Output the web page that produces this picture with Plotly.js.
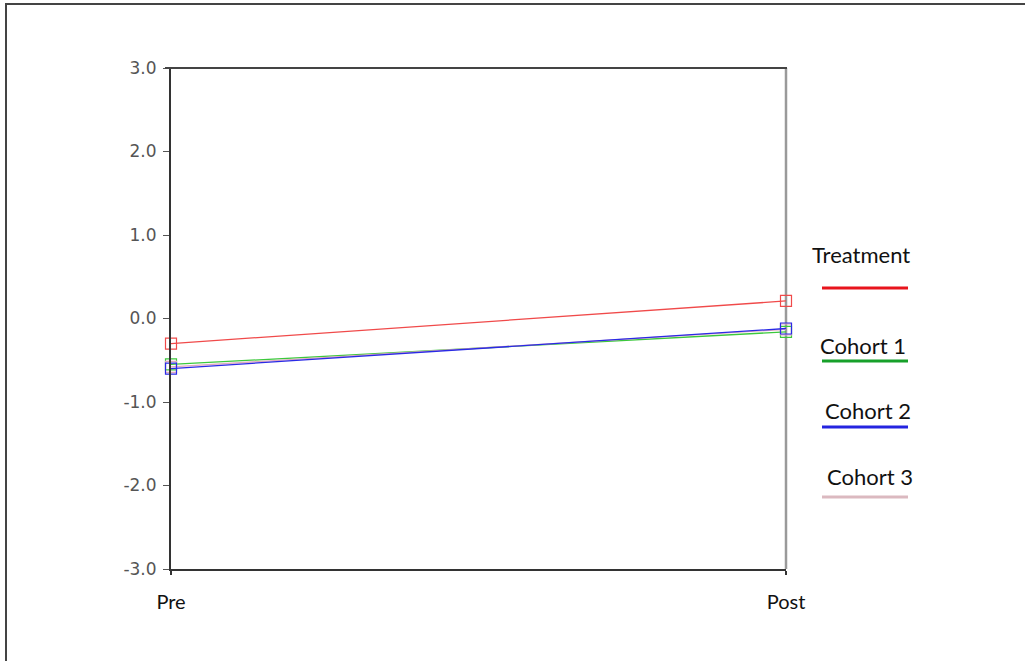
<!DOCTYPE html>
<html>
<head>
<meta charset="utf-8">
<script src="https://cdn.plot.ly/plotly-3.0.1.min.js"></script>
<style>
  html, body { margin: 0; padding: 0; background: #fff; overflow: hidden; }
  #wrap { position: relative; width: 1025px; height: 661px; overflow: hidden; }
  #chart { position: absolute; left: 0; top: 0; width: 1025px; height: 661px; }
  .fl { position: absolute; background: #444; pointer-events: none; }
</style>
</head>
<body>
<div id="wrap">
  <div id="chart"></div>
  <div class="fl" style="left:5px; top:3px; width:1020px; height:2px;"></div>
  <div class="fl" style="left:5px; top:3px; width:2px; height:658px;"></div>
</div>
<script>
// ---- data ----
const categories = ["Pre", "Post"];
const seriesNames = ["Treatment", "Cohort 1", "Cohort 2", "Cohort 3"];
const treatment = [-0.30, 0.21];
const cohort1 = [-0.55, -0.16];
const cohort2 = [-0.60, -0.12];
const cohort3 = [-0.58, -0.13];
const yTickVals = [-3, -2, -1, 0, 1, 2, 3];
const yTickText = ["-3.0", "-2.0", "-1.0", "0.0", "1.0", "2.0", "3.0"];

// ---- style ----
const lineColors = ["#f04a4a", "#3cc83c", "#2a2ae6", "#e0a8c0"];
const legendColors = ["#e8141c", "#17a02a", "#2424e0", "#dbb9c0"];
const xIdx = categories.map((c, i) => i);
const seriesData = [treatment, cohort1, cohort2, cohort3];
const drawOrder = [0, 1, 3, 2];

const traces = drawOrder.map(k => ({
  type: "scatter", mode: "lines+markers",
  name: seriesNames[k], x: xIdx, y: seriesData[k],
  line: { color: lineColors[k], width: 1.3 },
  marker: { symbol: "square-open", size: 11, color: lineColors[k], line: { width: 1.2, color: lineColors[k] } },
  showlegend: false, cliponaxis: false
}));

// plot area in pixels
const L = 171, R = 786, T = 68, B = 569;
const px2x = p => (p - L) / (R - L);
const px2y = p => (B - p) / (B - T);

const legendText = [[861, 254], [863, 345], [868, 410], [870, 476]];
const legendLineY = [288, 361, 427, 497];

const annotations = seriesNames.map((n, k) => ({
  xref: "paper", yref: "paper", x: px2x(legendText[k][0]), y: px2y(legendText[k][1]),
  xanchor: "center", yanchor: "middle", text: n, showarrow: false,
  font: { family: "Lato, 'Open Sans', sans-serif", size: 22, color: "#111" }
}));
const shapes = seriesNames.map((n, k) => ({
  type: "line", xref: "paper", yref: "paper",
  x0: px2x(822), x1: px2x(908), y0: px2y(legendLineY[k]), y1: px2y(legendLineY[k]),
  line: { color: legendColors[k], width: 3 }
}));
// right grey border of plot
shapes.push({ type: "line", xref: "paper", yref: "paper", x0: 1, x1: 1, y0: 0, y1: 1,
  line: { color: "#9a9a9a", width: 2.5 }, layer: "below" });
// top border of plot (extends left like a tick)
shapes.push({ type: "line", xref: "paper", yref: "paper", x0: px2x(165), x1: px2x(787), y0: 1, y1: 1,
  line: { color: "#444", width: 2 } });

const layout = {
  width: 1025, height: 661,
  margin: { l: L, r: 1025 - R, t: T, b: 661 - B },
  paper_bgcolor: "#fff", plot_bgcolor: "#fff",
  showlegend: false,
  xaxis: {
    range: [0, 1], tickvals: xIdx, ticktext: categories,
    showgrid: false,
    zeroline: false, showline: true, linecolor: "#333", linewidth: 2,
    ticks: "outside", ticklen: 4, tickcolor: "#333", tickwidth: 2,
    ticklabelstandoff: 10,
    tickfont: { family: "Lato, 'Open Sans', sans-serif", size: 20, color: "#111" }
  },
  yaxis: {
    range: [-3, 3], tickvals: yTickVals, ticktext: yTickText,
    showgrid: false, zeroline: false, showline: true, linecolor: "#333", linewidth: 2,
    ticks: "outside", ticklen: 6, tickcolor: "#555", tickwidth: 1,
    ticklabelstandoff: 3,
    tickfont: { family: "'DejaVu Sans', sans-serif", size: 17, color: "#555" }
  },
  annotations: annotations,
  shapes: shapes
};

Plotly.newPlot("chart", traces, layout, { displayModeBar: false, staticPlot: true });
</script>
</body>
</html>
